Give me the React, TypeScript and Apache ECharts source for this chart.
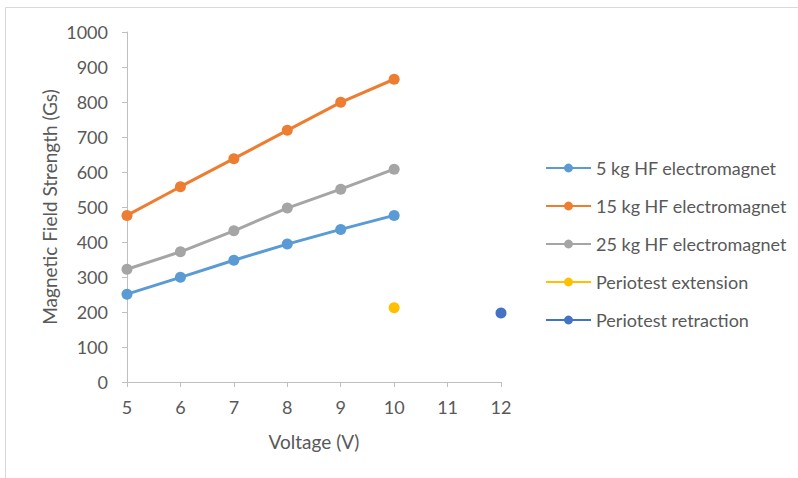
import React, { useEffect, useRef } from "react";
import * as echarts from "echarts";

// Voltage steps (V) for the electromagnet measurements
const voltages = [5, 6, 7, 8, 9, 10];

// Magnetic field strength (Gs) per voltage
const hf5kg = [251, 299, 348, 394, 436, 476];
const hf15kg = [476, 558, 638, 719, 799, 865];
const hf25kg = [322, 372, 432, 497, 551, 608];

// Single reference readings [voltage, Gs]
const periotestExtension: [number, number][] = [[10, 212]];
const periotestRetraction: [number, number][] = [[12, 197]];

const seriesNames = [
  "5 kg HF electromagnet",
  "15 kg HF electromagnet",
  "25 kg HF electromagnet",
  "Periotest extension",
  "Periotest retraction",
];
const colors = ["#5B9BD5", "#ED7D31", "#A5A5A5", "#FFC000", "#4472C4"];

const FONT = "Lato, 'Open Sans', sans-serif";
const TEXT = "#595959";
const AXIS = "#BFBFBF";

const pair = (ys: number[]) => voltages.map((v, i) => [v, ys[i]]);

export default function App() {
  const ref = useRef<HTMLDivElement>(null);

  useEffect(() => {
    if (!ref.current) return;
    const chart = echarts.init(ref.current, undefined, { renderer: "svg" });

    const lineSeries = (name: string, data: number[][], color: string) => ({
      name,
      type: "line",
      data,
      symbol: "circle",
      symbolSize: 11,
      showSymbol: true,
      itemStyle: { color },
      lineStyle: { color, width: 3 },
      emphasis: { disabled: true },
    });

    chart.setOption({
      animation: false,
      backgroundColor: "#ffffff",
      textStyle: { fontFamily: FONT },
      grid: { left: 127, right: 297, top: 32, bottom: 96 },
      graphic: [
        {
          type: "rect",
          shape: { x: 5.5, y: 7.5, width: 800, height: 480 },
          style: { fill: "none", stroke: "#D9D9D9", lineWidth: 1 },
          silent: true,
        },
      ],
      xAxis: {
        type: "value",
        min: 5,
        max: 12,
        interval: 1,
        name: "Voltage (V)",
        nameLocation: "middle",
        nameGap: 50,
        nameTextStyle: { color: TEXT, fontSize: 19, fontFamily: FONT },
        axisLine: { show: true, lineStyle: { color: AXIS, width: 1 } },
        axisTick: { show: true, length: 5, lineStyle: { color: AXIS } },
        axisLabel: { color: TEXT, fontSize: 18, fontFamily: FONT, margin: 16 },
        splitLine: { show: false },
      },
      yAxis: {
        type: "value",
        min: 0,
        max: 1000,
        interval: 100,
        name: "Magnetic Field Strength (Gs)",
        nameLocation: "middle",
        nameGap: 68,
        nameTextStyle: { color: TEXT, fontSize: 19, fontFamily: FONT },
        axisLine: { show: true, lineStyle: { color: AXIS, width: 1 } },
        axisTick: { show: true, length: 5, lineStyle: { color: AXIS } },
        axisLabel: {
          color: TEXT,
          fontSize: 18,
          fontFamily: FONT,
          margin: 19,
          formatter: (v: number) => String(v),
        },
        splitLine: { show: false },
      },
      legend: {
        orient: "vertical",
        left: 545,
        top: 159,
        padding: 0,
        itemWidth: 45,
        itemHeight: 11,
        itemGap: 20,
        data: seriesNames,
        textStyle: { color: TEXT, fontSize: 18, fontFamily: FONT },
      },
      series: [
        lineSeries(seriesNames[0], pair(hf5kg), colors[0]),
        lineSeries(seriesNames[1], pair(hf15kg), colors[1]),
        lineSeries(seriesNames[2], pair(hf25kg), colors[2]),
        lineSeries(seriesNames[3], periotestExtension, colors[3]),
        lineSeries(seriesNames[4], periotestRetraction, colors[4]),
      ],
    });

    return () => chart.dispose();
  }, []);

  return (
    <div
      ref={ref}
      style={{ position: "fixed", left: 0, top: 0, width: 798, height: 478 }}
    />
  );
}
